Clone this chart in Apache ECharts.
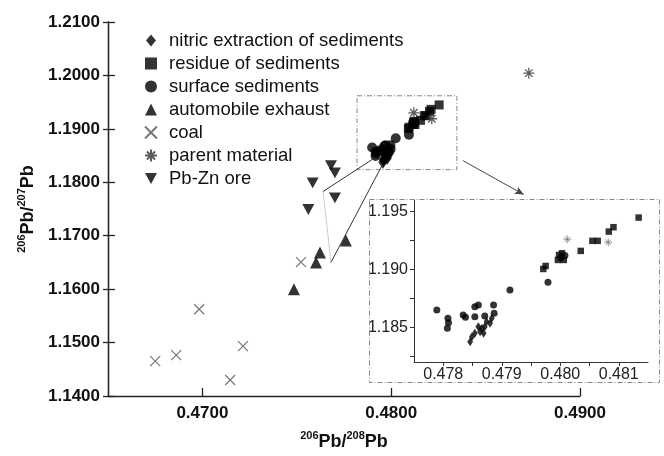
<!DOCTYPE html>
<html>
<head>
<meta charset="utf-8">
<script src="https://cdn.jsdelivr.net/npm/echarts@6/dist/echarts.min.js"></script>
<style>html,body{margin:0;padding:0;background:#fff;}#c{width:664px;height:456px;}</style>
</head>
<body>
<div id="c"></div>
<script>
// ---------- data ----------
const legendNames = ['nitric extraction of sediments','residue of sediments','surface sediments','automobile exhaust','coal','parent material','Pb-Zn ore'];

// main plot ticks
const xTicksMain = [0.47, 0.48, 0.49];
const yTicksMain = [1.14, 1.15, 1.16, 1.17, 1.18, 1.19, 1.20, 1.21];
// inset ticks
const xLabelsInset = [0.478, 0.479, 0.480, 0.481];
const xTicksInset = [0.478, 0.4785, 0.479, 0.4795, 0.480, 0.4805, 0.481];
const yLabelsInset = [1.185, 1.190, 1.195];
const yTicksInset = [1.1825, 1.185, 1.1875, 1.190, 1.1925, 1.195];

// main plot series
const nitricMain = [[0.47956,1.18375],[0.47959,1.18419],[0.47964,1.18448],[0.47973,1.18462],[0.47976,1.18491],[0.47970,1.18505],[0.47981,1.18505],[0.47984,1.18548],[0.47990,1.18535],[0.47993,1.18578],[0.47979,1.18448]];
const residueMain = [[0.48091,1.19004],[0.48095,1.19030],[0.48118,1.19125],[0.48123,1.19140],[0.48126,1.19082],[0.48116,1.19082],[0.48155,1.19160],[0.48175,1.19247],[0.48184,1.19247],[0.48203,1.19327],[0.48211,1.19365],[0.48254,1.19448]];
const surfaceMain = [[0.47899,1.18650],[0.47918,1.18578],[0.47919,1.18540],[0.47917,1.18491],[0.47944,1.18606],[0.47948,1.18587],[0.47964,1.18678],[0.47970,1.18693],[0.47964,1.18592],[0.47981,1.18598],[0.47996,1.18693],[0.47997,1.18621],[0.48024,1.18823],[0.48094,1.18889],[0.48116,1.19102],[0.48123,1.19120]];
const exhaust = [[0.47485,1.16000],[0.47602,1.16500],[0.47623,1.16687],[0.47760,1.16910]];
const coal = [[0.46750,1.14653],[0.46861,1.14765],[0.46983,1.15624],[0.47215,1.14933],[0.47147,1.14299],[0.47522,1.16507]];
const parentMain = [[0.48120,1.19301],[0.48215,1.19189],[0.48729,1.20043]];
const pbzn = [[0.47681,1.18312],[0.47702,1.18176],[0.47584,1.17989],[0.47702,1.17709],[0.47561,1.17491]];

// inset series
const nitricInset = [[0.47846,1.18375],[0.47849,1.18419],[0.47854,1.18448],[0.47863,1.18462],[0.47866,1.18491],[0.47860,1.18505],[0.47871,1.18505],[0.47874,1.18548],[0.47880,1.18535],[0.47883,1.18578],[0.47869,1.18448]];
const residueInset = [[0.47971,1.19004],[0.47975,1.19030],[0.47998,1.19125],[0.48003,1.19140],[0.48006,1.19082],[0.47996,1.19082],[0.48035,1.19160],[0.48055,1.19247],[0.48064,1.19247],[0.48083,1.19327],[0.48091,1.19365],[0.48134,1.19448]];
const surfaceInset = [[0.47789,1.18650],[0.47808,1.18578],[0.47809,1.18540],[0.47807,1.18491],[0.47834,1.18606],[0.47838,1.18587],[0.47854,1.18678],[0.47860,1.18693],[0.47854,1.18592],[0.47871,1.18598],[0.47886,1.18693],[0.47887,1.18621],[0.47914,1.18823],[0.47979,1.18889],[0.48001,1.19102],[0.48008,1.19120]];
const parentInset = [[0.48012,1.19261],[0.48082,1.19235]];

// annotation geometry (main-plot data coordinates)
const zoomRect = [[0.47819,1.19619],[0.48348,1.18237]];
const zoomLineA = [[0.47898,1.18424],[0.47639,1.17827]];
const zoomLineB = [[0.47951,1.18312],[0.47681,1.16501]];
const zoomLineDotted = [[0.47639,1.17827],[0.47681,1.16501]];
const arrowLine = [[0.48380,1.18405],[0.48702,1.17771]];

// ---------- chart ----------
const F = '"Liberation Sans", Arial, Helvetica, sans-serif';
const X_PATH = 'path://M0,0L10,10M10,0L0,10';
const AST_PATH = 'path://M5,0L5,10M0,5L10,5M1.6,1.6L8.4,8.4M8.4,1.6L1.6,8.4';
const DOWN_TRI = 'path://M0,0L10,0L5,9Z';
const DIAMOND = 'path://M5,0L10,6L5,12L0,6Z';

const chart = echarts.init(document.getElementById('c'), null, {renderer: 'canvas'});

function mainScatter(name, data, symbol, size, extra) {
  return Object.assign({
    name: name, type: 'scatter', xAxisIndex: 0, yAxisIndex: 0,
    data: data, symbol: symbol, symbolSize: size, symbolKeepAspect: true,
    itemStyle: {color: '#000'}, silent: true, z: 3
  }, extra || {});
}
function insetScatter(name, data, symbol, size, extra) {
  return Object.assign({
    name: name, type: 'scatter', xAxisIndex: 1, yAxisIndex: 1,
    data: data, symbol: symbol, symbolSize: size, symbolKeepAspect: true,
    itemStyle: {color: '#000'}, silent: true, z: 3
  }, extra || {});
}
const supRich = {
  b: {fontFamily: F, fontWeight: 'bold', fontSize: 18, color: '#111', lineHeight: 24},
  s: {fontFamily: F, fontWeight: 'bold', fontSize: 11, color: '#111', verticalAlign: 'top', lineHeight: 24}
};

const option = {
  animation: false,
  backgroundColor: '#fff',
  legend: {
    data: legendNames,
    orient: 'vertical',
    left: 139, top: 26,
    itemWidth: 12, itemHeight: 12, itemGap: 4,
    selectedMode: false,
    textStyle: {fontFamily: F, fontSize: 18.5, color: '#111', lineHeight: 18, padding: [0,0,0,7]}
  },
  grid: [
    {left: 108, top: 22, width: 472, height: 375},
    {left: 414, top: 200, width: 234, height: 162}
  ],
  xAxis: [
    {
      gridIndex: 0, type: 'value', min: 0.465, max: 0.49,
      name: '{s|206}{b|Pb/}{s|208}{b|Pb}', nameLocation: 'middle', nameGap: 34,
      nameTextStyle: {rich: supRich},
      axisLine: {lineStyle: {color: '#222', width: 1.3}},
      axisTick: {inside: true, length: 8, customValues: xTicksMain, lineStyle: {color: '#222', width: 1.3}},
      axisLabel: {customValues: xTicksMain, formatter: v => v.toFixed(4), fontFamily: F, fontWeight: 'bold', fontSize: 17, color: '#111', margin: 9},
      splitLine: {show: false}
    },
    {
      gridIndex: 1, type: 'value', min: 0.4775, max: 0.4815,
      axisLine: {lineStyle: {color: '#333', width: 1}},
      axisTick: {inside: false, length: 4, customValues: xTicksInset, lineStyle: {color: '#333'}},
      axisLabel: {customValues: xLabelsInset, formatter: v => v.toFixed(3), fontFamily: F, fontSize: 16, color: '#222', margin: 5},
      splitLine: {show: false}
    }
  ],
  yAxis: [
    {
      gridIndex: 0, type: 'value', min: 1.14, max: 1.21, position: 'left',
      name: '{s|206}{b|Pb/}{s|207}{b|Pb}', nameLocation: 'middle', nameGap: 63,
      nameTextStyle: {rich: supRich},
      axisLine: {lineStyle: {color: '#222', width: 1.3}},
      axisTick: {inside: false, length: 5, customValues: yTicksMain, lineStyle: {color: '#222', width: 1.3}},
      axisLabel: {customValues: yTicksMain, formatter: v => v.toFixed(4), fontFamily: F, fontWeight: 'bold', fontSize: 17, color: '#111', margin: 8},
      splitLine: {show: false}
    },
    {
      gridIndex: 1, type: 'value', min: 1.182, max: 1.196, position: 'left',
      axisLine: {lineStyle: {color: '#333', width: 1}},
      axisTick: {inside: false, length: 4, customValues: yTicksInset, lineStyle: {color: '#333'}},
      axisLabel: {customValues: yLabelsInset, formatter: v => v.toFixed(3), fontFamily: F, fontSize: 16, color: '#222', margin: 6},
      splitLine: {show: false}
    },
    {
      gridIndex: 0, type: 'value', min: 1.14, max: 1.21, interval: 0.01, position: 'left', offset: 0,
      axisLine: {show: true, lineStyle: {color: '#222', width: 1.3}},
      axisTick: {show: true, inside: true, length: 7, lineStyle: {color: '#222', width: 1.3}},
      axisLabel: {show: true, inside: true, color: 'rgba(0,0,0,0)', formatter: () => ''},
      splitLine: {show: false}
    }
  ],
  graphic: [
    {type: 'rect', shape: {x: 369.5, y: 199.5, width: 290, height: 183}, silent: true, z: 1,
     style: {fill: 'none', stroke: '#888', lineWidth: 1, lineDash: [5, 2, 1, 2]}}
  ],
  series: [
    mainScatter(legendNames[0], nitricMain, DIAMOND, [11, 13]),
    mainScatter(legendNames[1], residueMain, 'rect', 9),
    mainScatter(legendNames[2], surfaceMain, 'circle', 10),
    mainScatter(legendNames[3], exhaust, 'triangle', 12),
    mainScatter(legendNames[4], coal, X_PATH, 10, {
      itemStyle: {color: 'rgba(0,0,0,0)', borderColor: '#555', borderWidth: 1.2},
      markLine: {
        silent: true, symbol: ['none', 'none'], label: {show: false},
        lineStyle: {color: '#333', width: 1, type: 'solid'},
        data: [
          [{coord: zoomLineA[0]}, {coord: zoomLineA[1]}],
          [{coord: zoomLineB[0]}, {coord: zoomLineB[1]}],
          [{coord: zoomLineDotted[0], lineStyle: {color: '#999', type: 'dotted', width: 1}}, {coord: zoomLineDotted[1]}],
          [{coord: arrowLine[0], lineStyle: {color: '#444', width: 1}}, {coord: arrowLine[1], symbol: 'arrow', symbolSize: [6, 9]}]
        ]
      },
      markArea: {
        silent: true, label: {show: false},
        itemStyle: {color: 'rgba(0,0,0,0)', borderColor: '#888', borderWidth: 1, borderType: [5, 2, 1, 2]},
        data: [[{coord: zoomRect[0]}, {coord: zoomRect[1]}]]
      }
    }),
    mainScatter(legendNames[5], parentMain, AST_PATH, 11, {
      itemStyle: {color: 'rgba(0,0,0,0)', borderColor: '#333', borderWidth: 1.3}
    }),
    mainScatter(legendNames[6], pbzn, DOWN_TRI, 12),

    insetScatter(legendNames[0], nitricInset, DIAMOND, [7, 9]),
    insetScatter(legendNames[1], residueInset, 'rect', 6.5),
    insetScatter(legendNames[2], surfaceInset, 'circle', 7),
    insetScatter(legendNames[5], parentInset, AST_PATH, 8, {
      itemStyle: {color: 'rgba(0,0,0,0)', borderColor: '#777', borderWidth: 1}
    })
  ]
};
chart.setOption(option);
</script>
</body>
</html>
